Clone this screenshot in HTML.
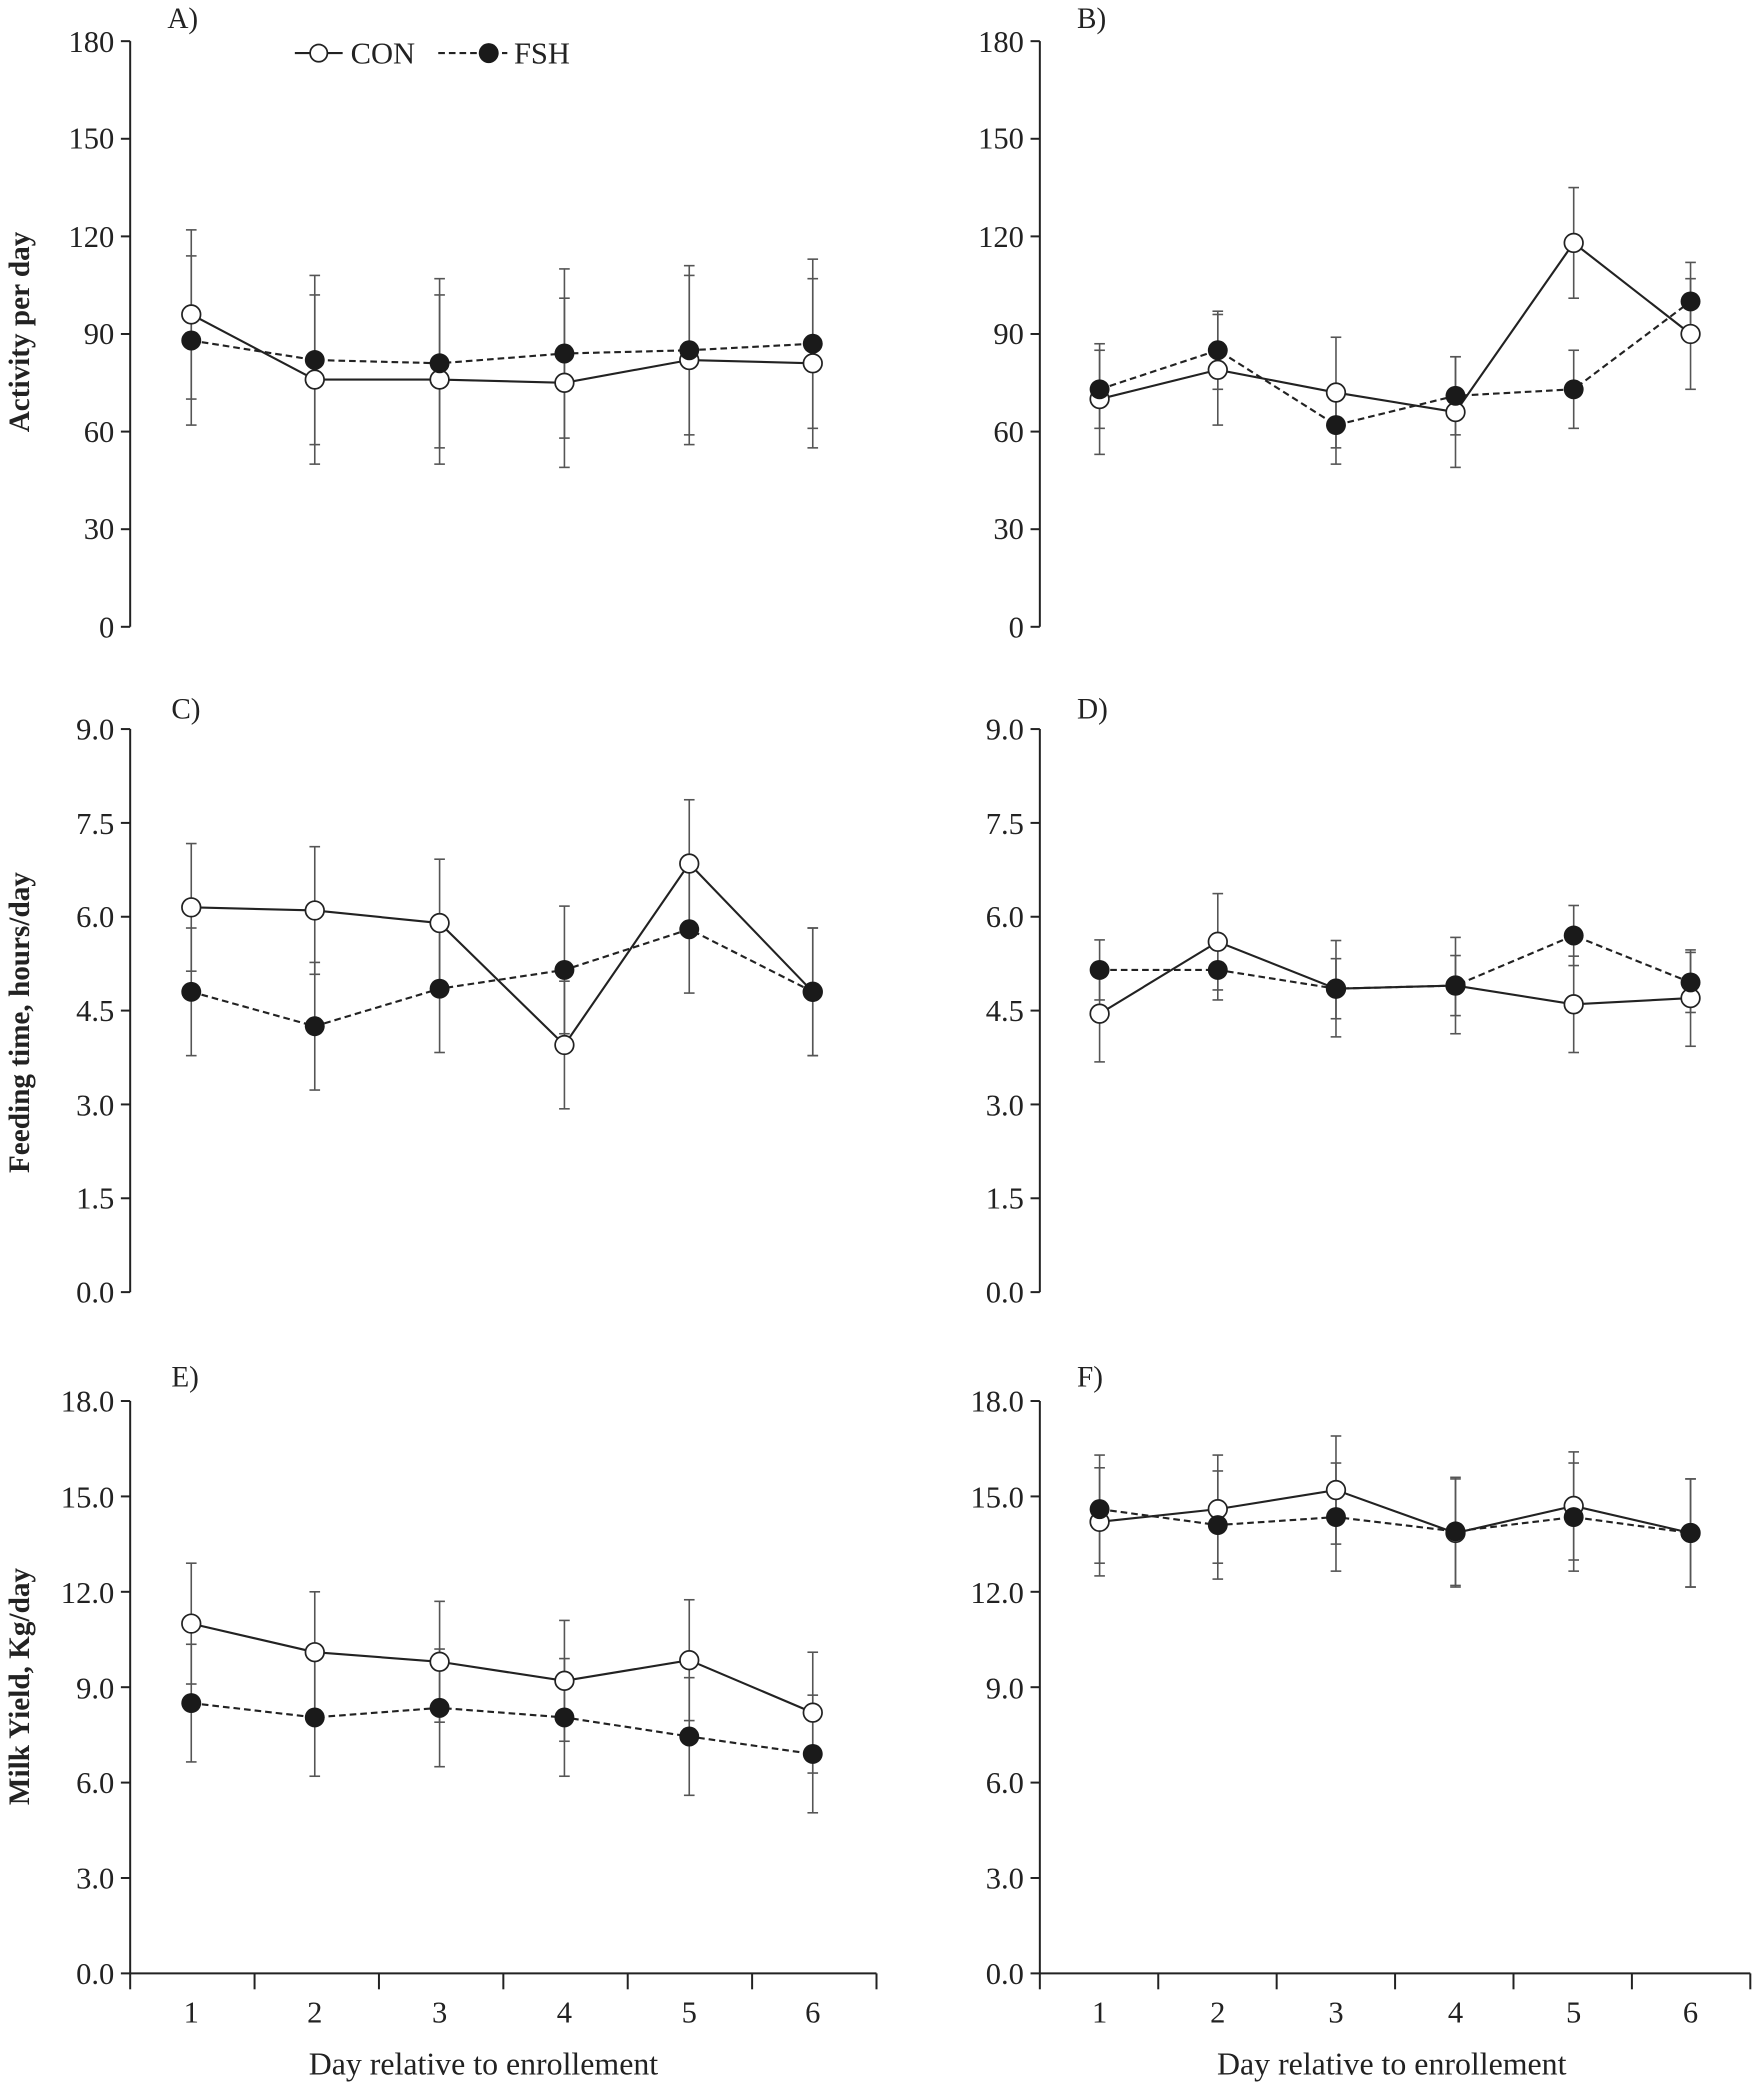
<!DOCTYPE html>
<html><head><meta charset="utf-8"><style>
html,body{margin:0;padding:0;background:#fff}
svg{display:block}
text{font-family:"Liberation Serif",serif;fill:#222}
.t{font-size:23px;text-anchor:end}
.x{font-size:23px;text-anchor:middle}
.xl{font-size:24px;text-anchor:middle}
.yl{font-size:22px;font-weight:bold;text-anchor:middle}
.p{font-size:22px}
</style></head><body>
<svg id="s" width="1753" height="2084" viewBox="0 0 1320 1569.3" xmlns="http://www.w3.org/2000/svg">
<g id="g"></g>
<text class="p" x="126" y="21">A)</text>
<text class="p" x="811" y="21">B)</text>
<text class="p" x="129" y="541">C)</text>
<text class="p" x="811" y="541">D)</text>
<text class="p" x="129" y="1044">E)</text>
<text class="p" x="811" y="1044">F)</text>
<text class="p" x="264" y="48" style="font-size:23px">CON</text>
<text class="p" x="387" y="48" style="font-size:23px">FSH</text>
<text class="yl" transform="translate(22,250) rotate(-90)">Activity per day</text>
<text class="yl" transform="translate(22,770) rotate(-90)">Feeding time, hours/day</text>
<text class="yl" transform="translate(22,1270) rotate(-90)">Milk Yield, Kg/day</text>
<text class="t" x="86" y="39">180</text><text class="t" x="86" y="112">150</text><text class="t" x="86" y="186">120</text><text class="t" x="86" y="259">90</text><text class="t" x="86" y="333">60</text><text class="t" x="86" y="406">30</text><text class="t" x="86" y="480">0</text>
<text class="t" x="771" y="39">180</text><text class="t" x="771" y="112">150</text><text class="t" x="771" y="186">120</text><text class="t" x="771" y="259">90</text><text class="t" x="771" y="333">60</text><text class="t" x="771" y="406">30</text><text class="t" x="771" y="480">0</text>
<text class="t" x="86" y="557">9.0</text><text class="t" x="86" y="628">7.5</text><text class="t" x="86" y="698">6.0</text><text class="t" x="86" y="769">4.5</text><text class="t" x="86" y="840">3.0</text><text class="t" x="86" y="910">1.5</text><text class="t" x="86" y="981">0.0</text>
<text class="t" x="771" y="557">9.0</text><text class="t" x="771" y="628">7.5</text><text class="t" x="771" y="698">6.0</text><text class="t" x="771" y="769">4.5</text><text class="t" x="771" y="840">3.0</text><text class="t" x="771" y="910">1.5</text><text class="t" x="771" y="981">0.0</text>
<text class="t" x="86" y="1063">18.0</text><text class="t" x="86" y="1135">15.0</text><text class="t" x="86" y="1207">12.0</text><text class="t" x="86" y="1279">9.0</text><text class="t" x="86" y="1350">6.0</text><text class="t" x="86" y="1422">3.0</text><text class="t" x="86" y="1494">0.0</text>
<text class="t" x="771" y="1063">18.0</text><text class="t" x="771" y="1135">15.0</text><text class="t" x="771" y="1207">12.0</text><text class="t" x="771" y="1279">9.0</text><text class="t" x="771" y="1350">6.0</text><text class="t" x="771" y="1422">3.0</text><text class="t" x="771" y="1494">0.0</text>
<text class="x" x="144" y="1523">1</text><text class="x" x="237" y="1523">2</text><text class="x" x="331" y="1523">3</text><text class="x" x="425" y="1523">4</text><text class="x" x="519" y="1523">5</text><text class="x" x="612" y="1523">6</text>
<text class="x" x="828" y="1523">1</text><text class="x" x="917" y="1523">2</text><text class="x" x="1006" y="1523">3</text><text class="x" x="1096" y="1523">4</text><text class="x" x="1185" y="1523">5</text><text class="x" x="1273" y="1523">6</text>
<text class="xl" x="364" y="1562">Day relative to enrollement</text>
<text class="xl" x="1048" y="1562">Day relative to enrollement</text>
</svg>
<script>
const g=document.getElementById('g');const NS='http://www.w3.org/2000/svg';
function el(t,a){const e=document.createElementNS(NS,t);for(const k in a)e.setAttribute(k,a[k]);g.appendChild(e);return e;}
function line(x1,y1,x2,y2,w,c,d){const a={x1,y1,x2,y2,stroke:c||'#222','stroke-width':w||1.5};if(d)a['stroke-dasharray']=d;el('line',a);}
const XA=[144,237,331,425,519,612],XB=[828,917,1006,1096,1185,1273];
function panel(ax,top,bot,max,xs,con,ce,fsh,fe,xaxis,right){
 line(ax,top,ax,bot,1.5);
 for(let i=0;i<=6;i++){const y=top+(bot-top)*i/6;line(ax-7,y,ax,y,1.5);}
 if(xaxis){line(ax,bot,right,bot,1.5);const w=(right-ax)/6;for(let i=0;i<=6;i++)line(ax+w*i,bot,ax+w*i,bot+12,1.5);}
 const Y=v=>bot-(bot-top)*v/max;
 const eb=(x,v,e)=>{line(x,Y(v-e),x,Y(v+e),1.2,'#555');line(x-4,Y(v-e),x+4,Y(v-e),1.2,'#555');line(x-4,Y(v+e),x+4,Y(v+e),1.2,'#555');};
 xs.forEach((x,i)=>{eb(x,con[i],ce[i]);eb(x,fsh[i],fe[i]);});
 el('polyline',{points:xs.map((x,i)=>x+','+Y(fsh[i])).join(' '),fill:'none',stroke:'#222','stroke-width':1.6,'stroke-dasharray':'5,3'});
 el('polyline',{points:xs.map((x,i)=>x+','+Y(con[i])).join(' '),fill:'none',stroke:'#222','stroke-width':1.6});
 xs.forEach((x,i)=>{el('circle',{cx:x,cy:Y(con[i]),r:7,fill:'#fff',stroke:'#222','stroke-width':1.3});});
 xs.forEach((x,i)=>{el('circle',{cx:x,cy:Y(fsh[i]),r:7.5,fill:'#1a1a1a'});});
}
const c=(n,v)=>Array(6).fill(v);
panel(98,31,472,180,XA,[96,76,76,75,82,81],c(0,26),[88,82,81,84,85,87],c(0,26));
panel(783,31,472,180,XB,[70,79,72,66,118,90],c(0,17),[73,85,62,71,73,100],c(0,12));
panel(98,549,973,9,XA,[6.15,6.1,5.9,3.95,6.85,4.8],c(0,1.02),[4.8,4.25,4.85,5.15,5.8,4.8],c(0,1.02));
panel(783,549,973,9,XB,[4.45,5.6,4.85,4.9,4.6,4.7],c(0,0.77),[5.15,5.15,4.85,4.9,5.7,4.95],c(0,0.48));
panel(98,1055,1486,18,XA,[11.0,10.1,9.8,9.2,9.85,8.2],c(0,1.9),[8.5,8.05,8.35,8.05,7.45,6.9],c(0,1.85),true,660);
panel(783,1055,1486,18,XB,[14.2,14.6,15.2,13.85,14.7,13.85],c(0,1.7),[14.6,14.1,14.35,13.9,14.35,13.85],c(0,1.7),true,1318);
line(222,40,258,40,1.6);el('circle',{cx:240,cy:40,r:6.5,fill:'#fff',stroke:'#222','stroke-width':1.3});
line(330,40,382,40,1.6,'#222','5,3');el('circle',{cx:368,cy:40,r:7.5,fill:'#1a1a1a'});
</script>
</body></html>
